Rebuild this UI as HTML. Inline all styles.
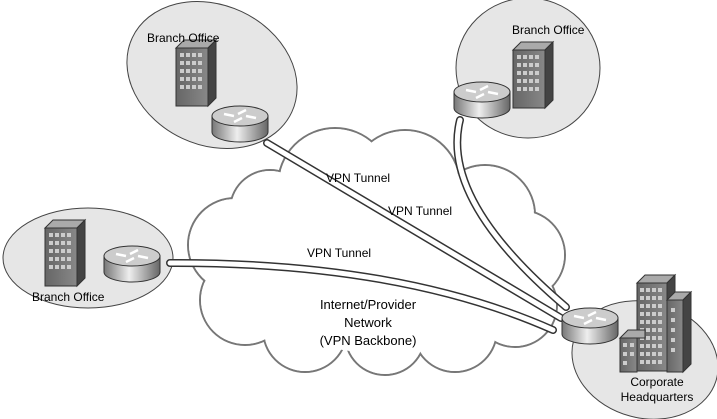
<!DOCTYPE html><html><head><style>body{margin:0;background:#fff}svg{display:block}</style></head><body>
<svg width="717" height="419" viewBox="0 0 717 419" xmlns="http://www.w3.org/2000/svg" font-family="Liberation Sans, sans-serif">
<defs>
<linearGradient id="rg" x1="0" x2="1"><stop offset="0" stop-color="#777"/><stop offset=".45" stop-color="#eee"/><stop offset="1" stop-color="#666"/></linearGradient>
<linearGradient id="bg" x1="0" x2="1"><stop offset="0" stop-color="#666"/><stop offset="1" stop-color="#888"/></linearGradient>
<g id="router"><path d="M-28,0 v16 a28,10 0 0 0 56,0 v-16z" fill="url(#rg)" stroke="#333"/><ellipse cx="0" cy="0" rx="28" ry="10" fill="#ccc" stroke="#333"/><path d="M-16,-2 l10,2 M6,-6 l-8,4 M16,2 l-10,-2 M-6,6 l8,-4" stroke="#fff" stroke-width="2.5"/></g>
<g id="win" fill="#ccc"><rect x="4" y="13" width="4" height="4"/><rect x="10" y="13" width="4" height="4"/><rect x="16" y="13" width="4" height="4"/><rect x="22" y="13" width="4" height="4"/>
<rect x="4" y="21" width="4" height="4"/><rect x="10" y="21" width="4" height="4"/><rect x="16" y="21" width="4" height="4"/><rect x="22" y="21" width="4" height="4"/>
<rect x="4" y="29" width="4" height="4"/><rect x="10" y="29" width="4" height="4"/><rect x="16" y="29" width="4" height="4"/><rect x="22" y="29" width="4" height="4"/>
<rect x="4" y="37" width="4" height="4"/><rect x="10" y="37" width="4" height="4"/><rect x="16" y="37" width="4" height="4"/><rect x="22" y="37" width="4" height="4"/>
<rect x="4" y="45" width="4" height="4"/><rect x="10" y="45" width="4" height="4"/><rect x="16" y="45" width="4" height="4"/><rect x="22" y="45" width="4" height="4"/></g>
<g id="bld"><path d="M0,8 l8,-8 h32 l-8,8z" fill="#aaa" stroke="#333"/><path d="M32,8 l8,-8 v58 l-8,8z" fill="#444" stroke="#333"/><rect x="0" y="8" width="32" height="58" fill="url(#bg)" stroke="#333"/><use href="#win"/></g>
</defs>
<g fill="#e6e6e6" stroke="#444" stroke-width="1">
<ellipse cx="212" cy="75" rx="88" ry="70" transform="rotate(25 212 75)"/>
<ellipse cx="528" cy="68" rx="72" ry="70"/>
<ellipse cx="88" cy="258" rx="85" ry="50"/>
<ellipse cx="645" cy="360" rx="74" ry="58" transform="rotate(15 645 360)"/>
</g>
<g id="cl">
<g fill="#fff" stroke="#777" stroke-width="2">
<circle cx="335" cy="185" r="57"/><circle cx="405" cy="185" r="55"/><circle cx="485" cy="215" r="50"/><circle cx="520" cy="255" r="45"/><circle cx="515" cy="305" r="42"/><circle cx="455" cy="330" r="42"/><circle cx="385" cy="335" r="40"/><circle cx="305" cy="330" r="42"/><circle cx="245" cy="300" r="45"/><circle cx="235" cy="245" r="47"/><circle cx="270" cy="210" r="40"/>
</g>
<g fill="#fff">
<circle cx="335" cy="185" r="56"/><circle cx="405" cy="185" r="54"/><circle cx="485" cy="215" r="49"/><circle cx="520" cy="255" r="44"/><circle cx="515" cy="305" r="41"/><circle cx="455" cy="330" r="41"/><circle cx="385" cy="335" r="39"/><circle cx="305" cy="330" r="41"/><circle cx="245" cy="300" r="44"/><circle cx="235" cy="245" r="46"/><circle cx="270" cy="210" r="39"/><ellipse cx="380" cy="258" rx="150" ry="95"/>
</g></g>
<use href="#bld" x="176" y="40"/>
<use href="#bld" x="513" y="42"/>
<use href="#bld" x="45" y="220"/>
<path d="M637,283 l8,-8 h30 l-8,8z" fill="#aaa" stroke="#333"/>
<path d="M667,283 l8,-8 v88 l-8,8z" fill="#444" stroke="#333"/>
<rect x="637" y="283" width="30" height="88" fill="url(#bg)" stroke="#333"/>
<use href="#win" x="636" y="275"/><use href="#win" x="636" y="315"/>
<path d="M667,300 l8,-8 h16 l-8,8z" fill="#aaa" stroke="#333"/>
<path d="M683,300 l8,-8 v72 l-8,8z" fill="#444" stroke="#333"/>
<rect x="667" y="300" width="16" height="72" fill="url(#bg)" stroke="#333"/>
<path d="M620,338 l8,-8 h17 v8z" fill="#aaa" stroke="#333"/>
<rect x="620" y="338" width="17" height="34" fill="url(#bg)" stroke="#333"/>
<g fill="#ccc"><rect x="623" y="343" width="4" height="4"/><rect x="630" y="343" width="4" height="4"/><rect x="623" y="352" width="4" height="4"/><rect x="630" y="352" width="4" height="4"/><rect x="623" y="361" width="4" height="4"/><rect x="671" y="308" width="4" height="4"/><rect x="671" y="318" width="4" height="4"/><rect x="671" y="328" width="4" height="4"/><rect x="671" y="338" width="4" height="4"/><rect x="671" y="348" width="4" height="4"/></g>
<g fill="none" stroke-linecap="round">
<g stroke="#333" stroke-width="8"><path d="M267,143 L561,318"/><path d="M460,120 Q440,200 566,307"/><path d="M170,263 Q400,262 553,330"/></g>
<g stroke="#fff" stroke-width="5"><path d="M267,143 L561,318"/><path d="M460,120 Q440,200 566,307"/><path d="M170,263 Q400,262 553,330"/></g>
</g>
<use href="#router" x="240" y="116"/>
<use href="#router" x="482" y="92"/>
<use href="#router" x="132" y="256"/>
<use href="#router" x="590" y="318"/>
<g font-size="12" fill="#000">
<text x="147" y="42">Branch Office</text>
<text x="512" y="34">Branch Office</text>
<text x="32" y="301">Branch Office</text>
<text x="326" y="182">VPN Tunnel</text>
<text x="388" y="215">VPN Tunnel</text>
<text x="307" y="257">VPN Tunnel</text>
<g font-size="13"><text x="368" y="309" text-anchor="middle">Internet/Provider</text>
<text x="368" y="327" text-anchor="middle">Network</text>
<text x="368" y="345" text-anchor="middle">(VPN Backbone)</text></g>
<text x="657" y="386" text-anchor="middle">Corporate</text>
<text x="657" y="401" text-anchor="middle">Headquarters</text>
</g>
</svg></body></html>
